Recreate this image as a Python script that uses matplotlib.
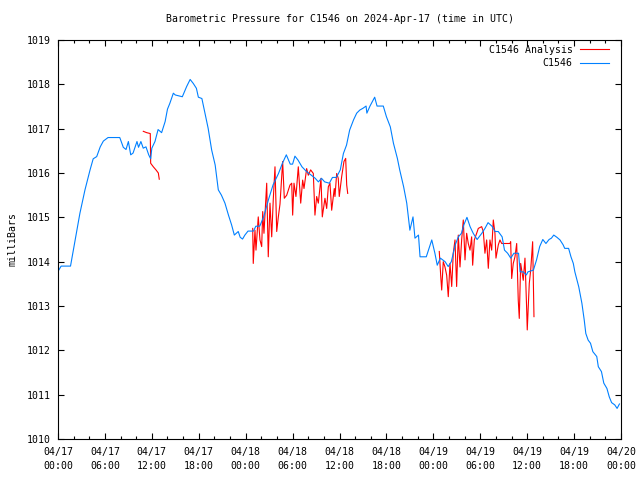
import matplotlib
matplotlib.use("Agg")
import matplotlib.pyplot as plt
from matplotlib.ticker import MultipleLocator

# ----------------------------- DATA -----------------------------
# time in hours since 2024-04-17 00:00 UTC
obs_hours = [0.0, 0.4, 1.6, 2.2, 2.8, 3.45, 4.1, 4.5, 4.95, 5.4, 5.8, 6.4, 7.9, 8.35, 8.7,
             9.0, 9.3, 9.6, 10.1, 10.3, 10.6, 10.9, 11.25, 11.6, 11.85, 12.0, 12.4, 12.8,
             13.25, 13.7, 14.0, 14.3, 14.75, 15.0, 15.9, 16.45, 16.9, 17.3, 17.7, 17.95,
             18.4, 18.8, 19.2, 19.65, 20.1, 20.5, 20.9, 21.35, 21.8, 22.2, 22.55, 23.05,
             23.3, 23.6, 23.9, 24.3, 25.0, 25.3, 25.8, 26.3, 26.9, 27.5, 28.2, 28.7, 29.2,
             29.7, 30.0, 30.3, 30.7, 31.2, 31.8, 32.4, 32.9, 33.3, 33.7, 34.1, 34.7, 35.1,
             35.6, 36.1, 36.5, 36.9, 37.3, 37.8, 38.2, 38.6, 39.0, 39.4, 39.5, 39.9, 40.2,
             40.5, 40.8, 41.6, 42.0, 42.5, 42.9, 43.4, 43.7, 44.2, 44.6, 44.8, 45.0, 45.4,
             45.65, 46.1, 46.3, 47.1, 47.8, 48.2, 48.5, 48.9, 49.5, 49.9, 50.3, 50.8, 51.2,
             51.6, 51.9, 52.3, 52.7, 53.1, 53.6, 54.2, 54.6, 55.0, 55.5, 55.9, 56.3, 56.8,
             57.1, 57.5, 57.9, 58.3, 58.9, 59.1, 59.5, 59.9, 60.1, 60.8, 61.2, 61.6, 62.0,
             62.4, 62.8, 63.1, 63.4, 63.8, 64.2, 64.6, 64.8, 65.3, 65.6, 65.9, 66.1, 66.6,
             67.0, 67.3, 67.5, 67.8, 68.1, 68.4, 68.9, 69.1, 69.5, 69.8, 70.2, 70.5, 70.8,
             71.2, 71.5, 71.8]
obs_mb = [1013.78, 1013.9, 1013.9, 1014.49, 1015.09, 1015.62, 1016.07, 1016.32, 1016.37,
          1016.59, 1016.72, 1016.8, 1016.8, 1016.58, 1016.53, 1016.71, 1016.41, 1016.45,
          1016.71, 1016.58, 1016.71, 1016.56, 1016.59, 1016.41, 1016.32, 1016.56, 1016.71,
          1016.98, 1016.91, 1017.16, 1017.44, 1017.57, 1017.8, 1017.76, 1017.72, 1017.95,
          1018.11, 1018.02, 1017.91, 1017.71, 1017.68, 1017.35, 1017.01, 1016.52, 1016.18,
          1015.62, 1015.5, 1015.32, 1015.05, 1014.83, 1014.6, 1014.68, 1014.55, 1014.51,
          1014.6, 1014.69, 1014.69, 1014.8, 1014.8, 1015.01, 1015.39, 1015.73, 1015.99,
          1016.22, 1016.41, 1016.2, 1016.2, 1016.38, 1016.29, 1016.14, 1016.03, 1015.95,
          1015.88, 1015.8, 1015.88, 1015.8, 1015.77, 1015.9, 1015.9, 1016.07, 1016.44,
          1016.63, 1016.97, 1017.2, 1017.35, 1017.42, 1017.46, 1017.51, 1017.35, 1017.51,
          1017.61, 1017.71, 1017.51, 1017.51, 1017.27, 1017.04, 1016.67, 1016.33, 1016.07,
          1015.69, 1015.32, 1015.01, 1014.71, 1015.01, 1014.53, 1014.6, 1014.11, 1014.11,
          1014.49, 1014.19, 1013.92, 1014.08, 1014.0, 1013.89, 1014.0, 1014.38, 1014.56,
          1014.64, 1014.83, 1015.0, 1014.79, 1014.64, 1014.5, 1014.64, 1014.75, 1014.88,
          1014.8, 1014.68, 1014.68, 1014.56, 1014.26, 1014.19, 1014.08, 1014.19, 1014.19,
          1013.77, 1013.77, 1013.7, 1013.77, 1013.81, 1014.04, 1014.34, 1014.5, 1014.41,
          1014.5, 1014.53, 1014.6, 1014.55, 1014.49, 1014.38, 1014.3, 1014.3, 1014.11,
          1013.96, 1013.77, 1013.43, 1013.06, 1012.68, 1012.38, 1012.23, 1012.16, 1011.97,
          1011.86, 1011.63, 1011.52, 1011.26, 1011.14, 1010.95, 1010.82, 1010.77, 1010.69,
          1010.79]

# analysis series, three separate runs
ana1_hours = [10.91, 11.34, 11.8, 11.85, 12.19, 12.53, 12.83, 12.95]
ana1_mb = [1016.94, 1016.91, 1016.89, 1016.22, 1016.14, 1016.07, 1016.0, 1015.86]

ana2_hours = [24.9, 24.97, 25.19, 25.32, 25.61, 25.83, 26.05, 26.18, 26.34, 26.69, 26.89,
              27.11, 27.33, 27.53, 27.75, 27.97, 28.17, 28.39, 28.73, 28.94, 29.25, 29.67,
              29.89, 30.01, 30.18, 30.43, 30.73, 31.04, 31.29, 31.46, 31.8, 32.01, 32.31,
              32.65, 32.86, 33.08, 33.29, 33.63, 33.8, 34.14, 34.36, 34.57, 34.78, 35.0,
              35.33, 35.42, 35.64, 35.84, 35.97, 36.28, 36.57, 36.79, 36.92, 37.05]
ana2_mb = [1014.75, 1013.96, 1014.71, 1014.26, 1015.01, 1014.49, 1014.34, 1015.13, 1014.64,
           1015.77, 1014.11, 1015.32, 1014.56, 1015.4, 1016.14, 1014.68, 1015.0, 1015.3,
           1016.26, 1015.43, 1015.5, 1015.73, 1015.77, 1015.05, 1015.77, 1015.47, 1016.14,
           1015.32, 1015.84, 1015.65, 1016.1, 1015.95, 1016.07, 1015.99, 1015.05, 1015.47,
           1015.32, 1015.88, 1015.01, 1015.43, 1015.2, 1015.69, 1015.77, 1015.16, 1015.65,
           1015.47, 1015.99, 1015.88, 1015.47, 1015.92, 1016.26, 1016.33, 1015.73, 1015.54]

ana3_hours = [48.76, 48.94, 49.07, 49.27, 49.49, 49.71, 49.91, 50.13, 50.35, 50.55, 50.77,
              50.98, 51.19, 51.41, 51.62, 51.83, 52.05, 52.26, 52.47, 52.69, 52.9, 53.03,
              53.24, 53.54, 53.75, 54.18, 54.39, 54.6, 54.82, 55.03, 55.24, 55.46, 55.67,
              55.88, 56.01, 56.31, 56.52, 56.74, 57.16, 57.8, 57.89, 58.02, 58.22, 58.44,
              58.66, 58.86, 58.99, 59.17, 59.5, 59.72, 59.94, 60.01, 60.27, 60.45, 60.7,
              60.87]
ana3_mb = [1014.23, 1013.69, 1013.36, 1014.0, 1013.88, 1013.69, 1013.21, 1013.96, 1013.44,
           1014.19, 1014.49, 1013.44, 1014.6, 1013.88, 1014.49, 1014.94, 1014.04, 1014.64,
           1014.41, 1014.26, 1014.56, 1013.92, 1014.49, 1014.64, 1014.75, 1014.79, 1014.68,
           1014.19, 1014.49, 1013.85, 1014.49, 1014.26, 1014.94, 1014.64, 1014.08, 1014.38,
           1014.49, 1014.41, 1014.41, 1014.41, 1014.45, 1013.62, 1013.96, 1014.11, 1014.41,
           1013.13, 1012.72, 1013.96, 1013.58, 1014.08, 1012.91, 1012.46, 1013.51, 1013.81,
           1014.45, 1012.76]

tick_hours = list(range(0, 73, 6))
tick_labels = ["04/17\n00:00", "04/17\n06:00", "04/17\n12:00", "04/17\n18:00",
               "04/18\n00:00", "04/18\n06:00", "04/18\n12:00", "04/18\n18:00",
               "04/19\n00:00", "04/19\n06:00", "04/19\n12:00", "04/19\n18:00",
               "04/20\n00:00"]
# -----------------------------------------------------------------

plt.rcParams["font.family"] = "DejaVu Sans Mono"
plt.rcParams["font.size"] = 7.1

fig = plt.figure(figsize=(6.4, 4.8), dpi=100)
ax = fig.add_axes([58 / 640, 1 - 439 / 480, (621 - 58) / 640, (439 - 40) / 480])

red = "#ff0000"
blue = "#0080ff"
ax.plot(ana1_hours, ana1_mb, color=red, lw=0.8, label="C1546 Analysis")
ax.plot(ana2_hours, ana2_mb, color=red, lw=0.8)
ax.plot(ana3_hours, ana3_mb, color=red, lw=0.8)
ax.plot(obs_hours, obs_mb, color=blue, lw=0.8, label="C1546")

ax.set_xlim(0, 72)
ax.set_ylim(1010, 1019)
ax.set_xticks(tick_hours)
ax.set_xticklabels(tick_labels, linespacing=1.5)
ax.xaxis.set_minor_locator(MultipleLocator(2))
ax.yaxis.set_major_locator(MultipleLocator(1))
ax.tick_params(which="both", direction="in", top=True, right=True, width=0.8)
ax.tick_params(which="major", length=4)
ax.tick_params(which="minor", length=2.5)
ax.tick_params(axis="x", pad=6)
ax.tick_params(axis="y", pad=5)
for s in ax.spines.values():
    s.set_linewidth(0.8)

ax.set_ylabel("milliBars", labelpad=7)
fig.text(339.5 / 640, 1 - 19 / 480, "Barometric Pressure for C1546 on 2024-Apr-17 (time in UTC)",
         ha="center", va="center")

ax.legend(loc="upper right", bbox_to_anchor=(0.9964, 1.0125), frameon=False,
          markerfirst=False, handlelength=3.0, labelspacing=0.35, borderaxespad=0.6,
          handletextpad=0.7)

fig.savefig("out.png", dpi=100)
